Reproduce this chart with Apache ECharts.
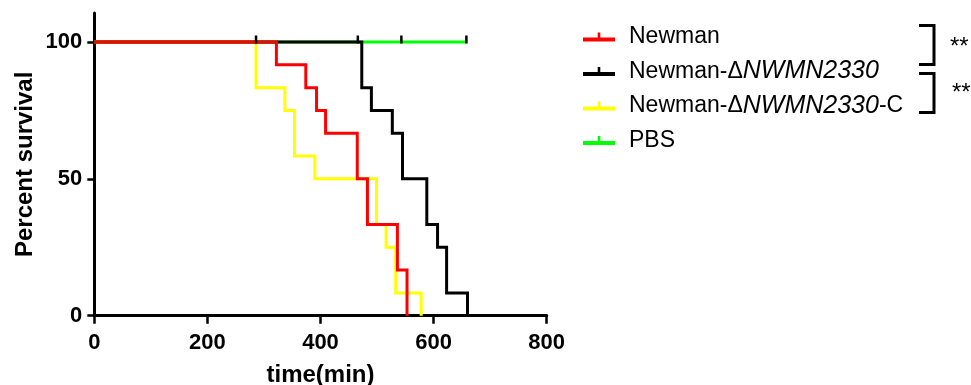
<!DOCTYPE html>
<html>
<head>
<meta charset="utf-8">
<script src="https://cdn.jsdelivr.net/npm/echarts@6/dist/echarts.min.js"></script>
<style>
  html, body { margin: 0; padding: 0; background: #fff; }
  #chart { width: 971px; height: 385px; }
</style>
</head>
<body>
<div id="chart"></div>
<script>
// survival curves, time in min / percent survival
const newmanT = [0, 322, 374, 393, 409, 465, 483, 536, 553];
const newmanS = [100, 91.67, 83.33, 75, 66.67, 50, 33.33, 16.67, 0];
const mutantT = [0, 473, 490, 527, 545, 588, 607, 623, 660];
const mutantS = [100, 83.33, 75, 66.67, 50, 33.33, 25, 8.33, 0];
const compT = [0, 286, 337, 354, 390, 499, 516, 533, 578];
const compS = [100, 83.33, 75, 58.33, 50, 33.33, 25, 8.33, 0];
const pbsT = [0, 658];
const pbsS = [100, 100];
const pbsCensor = [286, 466, 543, 658];

const xTicks = [0, 200, 400, 600, 800];
const yTicks = [0, 50, 100];

const FONT = "Liberation Sans, Arial, sans-serif";
const tickIcon = "path://M0,5 L32,5 L32,9 L0,9 Z M14.7,0 L17.3,0 L17.3,5 L14.7,5 Z";

const pairs = (t, s) => t.map((v, i) => [v, s[i]]);

const chart = echarts.init(document.getElementById("chart"));

const lineSeries = (name, t, s, color) => ({
  name: name,
  type: "line",
  step: "end",
  showSymbol: false,
  symbol: "none",
  data: pairs(t, s),
  color: color,
  lineStyle: { color: color, width: 3, join: "miter", cap: "butt" },
  animation: false,
});

const option = {
  animation: false,
  grid: { left: 94.3, right: 424.3, top: 13, bottom: 69.3, containLabel: false, outerBoundsMode: "none" },
  xAxis: {
    type: "value",
    min: xTicks[0],
    max: xTicks[xTicks.length - 1],
    interval: 200,
    name: "time(min)",
    nameLocation: "middle",
    nameGap: 48,
    nameTextStyle: { fontFamily: FONT, fontSize: 24, fontWeight: "bold", color: "#000" },
    axisLine: { show: true, lineStyle: { color: "#000", width: 3 } },
    axisTick: { show: true, length: 8, lineStyle: { color: "#000", width: 2.5 } },
    axisLabel: { margin: 16, fontFamily: FONT, fontSize: 22, fontWeight: "bold", color: "#000" },
    splitLine: { show: false },
  },
  yAxis: {
    type: "value",
    min: 0,
    max: 110.6,
    name: "Percent survival",
    nameLocation: "middle",
    nameRotate: 90,
    nameGap: 57,
    nameTextStyle: { fontFamily: FONT, fontSize: 24, fontWeight: "bold", color: "#000" },
    axisLine: { show: true, lineStyle: { color: "#000", width: 3 } },
    axisTick: { show: true, length: 7, customValues: yTicks, lineStyle: { color: "#000", width: 2.5 } },
    axisLabel: { margin: 12, customValues: yTicks, fontFamily: FONT, fontSize: 22, fontWeight: "bold", color: "#000" },
    splitLine: { show: false },
  },
  legend: {
    orient: "vertical",
    left: 578,
    top: 19,
    itemWidth: 32,
    itemHeight: 9,
    itemGap: 8.5,
    icon: tickIcon,
    data: ["Newman", "Newman-ΔNWMN2330", "Newman-ΔNWMN2330-C", "PBS"],
    formatter: (name) => {
      if (name === "Newman-ΔNWMN2330") return "{n|Newman-Δ}{i|NWMN2330}";
      if (name === "Newman-ΔNWMN2330-C") return "{n|Newman-Δ}{i|NWMN2330}{n|-C}";
      return "{n|" + name + "}";
    },
    textStyle: {
      padding: [0, 0, 0, 9],
      fontFamily: FONT,
      fontSize: 23,
      color: "#000",
      lineHeight: 26,
      rich: {
        n: { fontFamily: FONT, fontSize: 23, color: "#000", lineHeight: 26 },
        i: { fontFamily: FONT, fontSize: 25, fontStyle: "italic", color: "#000", lineHeight: 26 },
      },
    },
  },
  series: [
    Object.assign(lineSeries("PBS", pbsT, pbsS, "#00ff00"), {
      markPoint: {
        symbol: "rect",
        symbolSize: [2.5, 8],
        symbolOffset: [0, -2.5],
        itemStyle: { color: "#000" },
        label: { show: false },
        data: pbsCensor.map((t) => ({ coord: [t, 100] })),
      },
    }),
    lineSeries("Newman-ΔNWMN2330-C", compT, compS, "#ffff00"),
    lineSeries("Newman-ΔNWMN2330", mutantT, mutantS, "#000000"),
    lineSeries("Newman", newmanT, newmanS, "#ff0000"),
  ],
  graphic: [
    { type: "polyline", shape: { points: [[919, 25.5], [934, 25.5], [934, 64.5], [919, 64.5]] }, style: { stroke: "#000", lineWidth: 3, fill: null } },
    { type: "polyline", shape: { points: [[919, 73.5], [934, 73.5], [934, 112.5], [919, 112.5]] }, style: { stroke: "#000", lineWidth: 3, fill: null } },
    { type: "text", left: 950, top: 35, style: { text: "**", fontFamily: FONT, fontSize: 24, fill: "#000" } },
    { type: "text", left: 952, top: 81, style: { text: "**", fontFamily: FONT, fontSize: 24, fill: "#000" } },
  ],
};

chart.setOption(option);
</script>
</body>
</html>
